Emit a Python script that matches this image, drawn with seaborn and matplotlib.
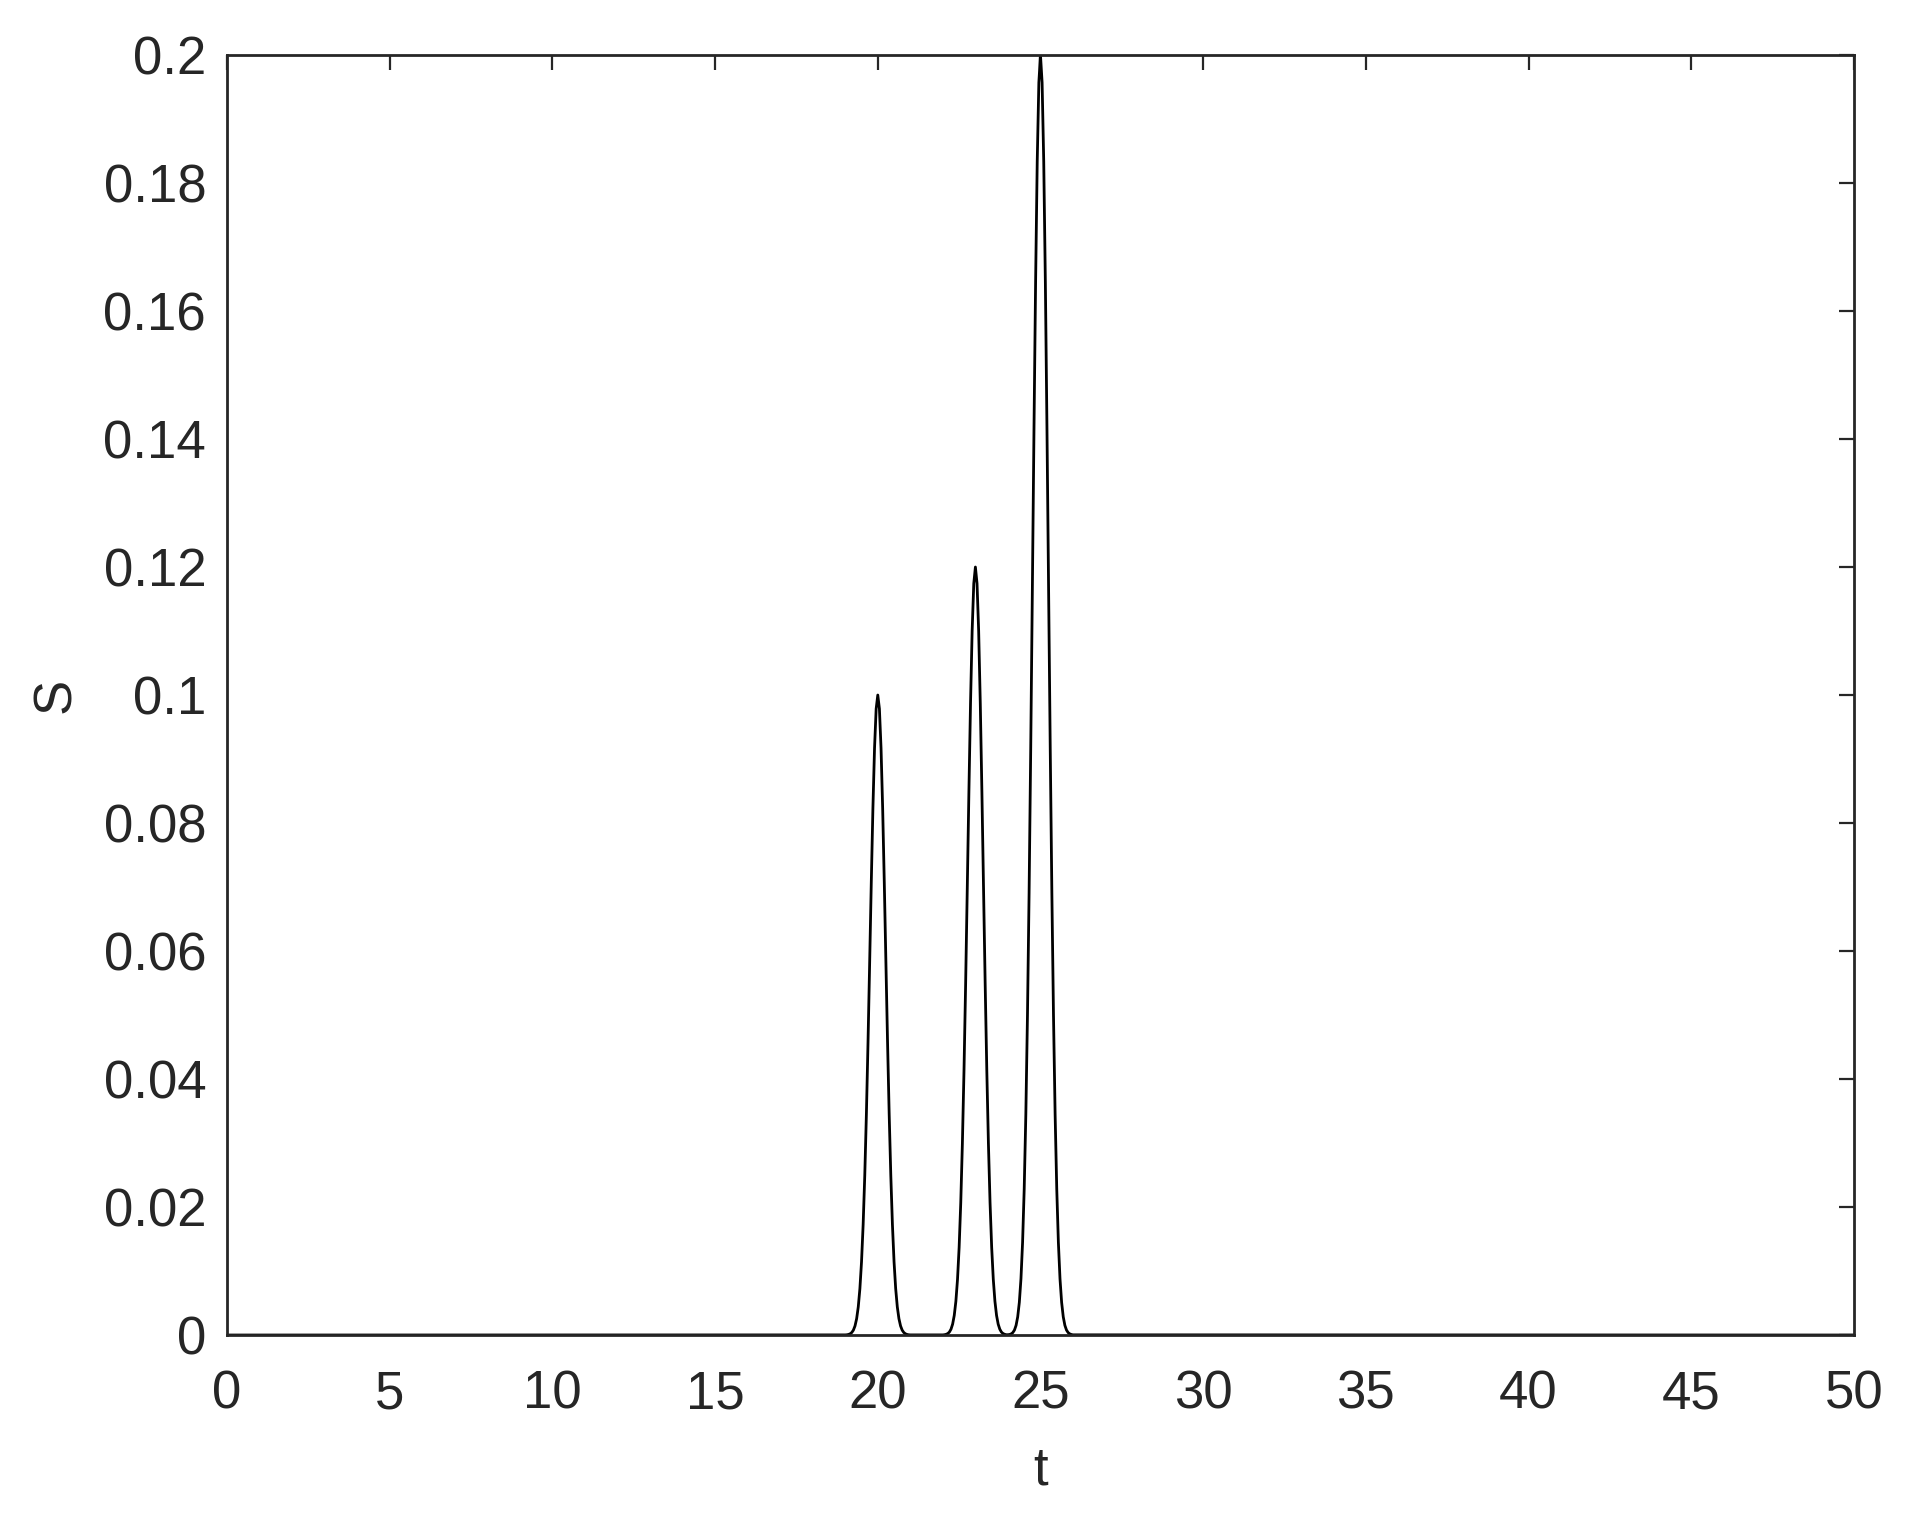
import numpy as np
import pandas as pd
import matplotlib
matplotlib.use("Agg")
import matplotlib.pyplot as plt
import seaborn as sns

# ---- data ----
t_start = [0.0]
s_start = [0.0]

peak1_t = [19.00, 19.05, 19.10, 19.15, 19.20, 19.25, 19.30, 19.35, 19.40, 19.45,
           19.50, 19.55, 19.60, 19.65, 19.70, 19.75, 19.80, 19.85, 19.90, 19.95,
           20.00,
           20.05, 20.10, 20.15, 20.20, 20.25, 20.30, 20.35, 20.40, 20.45, 20.50,
           20.55, 20.60, 20.65, 20.70, 20.75, 20.80, 20.85, 20.90, 20.95, 21.00]
peak1_s = [0.00002, 0.00004, 0.00009, 0.00019, 0.00039, 0.00076, 0.00142, 0.00255, 0.00439, 0.00724,
           0.01142, 0.01724, 0.02494, 0.03453, 0.04578, 0.05813, 0.07066, 0.08226, 0.09169, 0.09785,
           0.10000,
           0.09785, 0.09169, 0.08226, 0.07066, 0.05813, 0.04578, 0.03453, 0.02494, 0.01724, 0.01142,
           0.00724, 0.00439, 0.00255, 0.00142, 0.00076, 0.00039, 0.00019, 0.00009, 0.00004, 0.00002]

peak2_t = [22.00, 22.05, 22.10, 22.15, 22.20, 22.25, 22.30, 22.35, 22.40, 22.45,
           22.50, 22.55, 22.60, 22.65, 22.70, 22.75, 22.80, 22.85, 22.90, 22.95,
           23.00,
           23.05, 23.10, 23.15, 23.20, 23.25, 23.30, 23.35, 23.40, 23.45, 23.50,
           23.55, 23.60, 23.65, 23.70, 23.75, 23.80, 23.85, 23.90, 23.95]
peak2_s = [0.00002, 0.00005, 0.00011, 0.00023, 0.00046, 0.00091, 0.00170, 0.00306, 0.00527, 0.00869,
           0.01370, 0.02069, 0.02993, 0.04144, 0.05494, 0.06976, 0.08479, 0.09871, 0.11003, 0.11742,
           0.12000,
           0.11742, 0.11003, 0.09871, 0.08479, 0.06976, 0.05494, 0.04144, 0.02993, 0.02069, 0.01370,
           0.00869, 0.00527, 0.00306, 0.00170, 0.00091, 0.00046, 0.00023, 0.00011, 0.00005]

peak3_t = [24.00, 24.05, 24.10, 24.15, 24.20, 24.25, 24.30, 24.35, 24.40, 24.45,
           24.50, 24.55, 24.60, 24.65, 24.70, 24.75, 24.80, 24.85, 24.90, 24.95,
           25.00,
           25.05, 25.10, 25.15, 25.20, 25.25, 25.30, 25.35, 25.40, 25.45, 25.50,
           25.55, 25.60, 25.65, 25.70, 25.75, 25.80, 25.85, 25.90, 25.95, 26.00]
peak3_s = [0.00005, 0.00008, 0.00018, 0.00038, 0.00077, 0.00151, 0.00284, 0.00510, 0.00878, 0.01448,
           0.02284, 0.03448, 0.04988, 0.06906, 0.09156, 0.11626, 0.14132, 0.16452, 0.18338, 0.19570,
           0.20000,
           0.19570, 0.18338, 0.16452, 0.14132, 0.11626, 0.09156, 0.06906, 0.04988, 0.03448, 0.02284,
           0.01448, 0.00878, 0.00510, 0.00284, 0.00151, 0.00077, 0.00038, 0.00018, 0.00008, 0.00003]

t_end = [50.0]
s_end = [0.0]

x_ticks = [0, 5, 10, 15, 20, 25, 30, 35, 40, 45, 50]
x_ticklabels = ["0", "5", "10", "15", "20", "25", "30", "35", "40", "45", "50"]
y_ticks = [0, 0.02, 0.04, 0.06, 0.08, 0.1, 0.12, 0.14, 0.16, 0.18, 0.2]
y_ticklabels = ["0", "0.02", "0.04", "0.06", "0.08", "0.1", "0.12", "0.14", "0.16", "0.18", "0.2"]

df = pd.DataFrame({
    "t": t_start + peak1_t + peak2_t + peak3_t + t_end,
    "S": s_start + peak1_s + peak2_s + peak3_s + s_end,
})

# ---- style ----
sns.set_style("white")
plt.rcParams["font.family"] = ["Liberation Sans", "DejaVu Sans"]
txt = "#262626"

fig = plt.figure(figsize=(19.32, 15.24), dpi=100)
ax = fig.add_axes([0.1175, 0.124, 0.9596 - 0.1175, 0.9639 - 0.124])

sns.lineplot(data=df, x="t", y="S", ax=ax, color="black", linewidth=2.0,
             sort=False, estimator=None)

ax.set_xlim(0, 50)
ax.set_ylim(0, 0.2)
ax.set_xticks(x_ticks)
ax.set_xticklabels(x_ticklabels)
ax.set_yticks(y_ticks)
ax.set_yticklabels(y_ticklabels)

for sp in ax.spines.values():
    sp.set_visible(True)
    sp.set_color(txt)
    sp.set_linewidth(2.0)

ax.tick_params(axis="both", which="both", direction="in", top=True, right=True,
               length=10.5, width=1.6, color=txt, labelcolor=txt, labelsize=38)
ax.tick_params(axis="x", pad=25)
ax.tick_params(axis="y", pad=15)

ax.set_xlabel("t", fontsize=38, color=txt)
ax.set_ylabel("S", fontsize=38, color=txt)
ax.xaxis.set_label_coords(0.5, -0.086)
ax.yaxis.set_label_coords(-0.0897, 0.5)

fig.savefig("out.png", dpi=100, facecolor="white")
